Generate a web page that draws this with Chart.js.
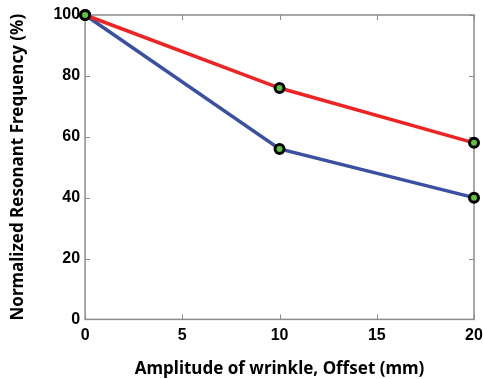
<!DOCTYPE html>
<html><head><meta charset="utf-8">
<script src="https://cdn.jsdelivr.net/npm/chart.js@4"></script>
<style>html,body{margin:0;padding:0;background:#fff;}#wrap{width:483px;height:379px;}</style>
</head><body><div id="wrap"><canvas id="c" width="483" height="379"></canvas></div>
<script>
const offsets = [0, 10, 20];
const redValues = [100, 76, 58];
const blueValues = [100, 56, 40];
const xTicks = [0, 5, 10, 15, 20];
const yTicks = [0, 20, 40, 60, 80, 100];
const xTitle = 'Amplitude of wrinkle, Offset (mm)';
const yTitle = 'Normalized Resonant Frequency (%)';

const frame = {
  id: 'frame',
  beforeDatasetsDraw(chart) {
    const {ctx, chartArea: a, scales} = chart;
    ctx.save();
    ctx.strokeStyle = '#8c8c8c';
    ctx.lineWidth = 1.5;
    ctx.strokeRect(a.left, a.top, a.right - a.left, a.bottom - a.top);
    ctx.lineWidth = 1;
    const L = 5;
    xTicks.forEach(v => {
      const px = Math.round(scales.x.getPixelForValue(v)) + 0.5;
      ctx.beginPath(); ctx.moveTo(px, a.bottom); ctx.lineTo(px, a.bottom - L);
      ctx.moveTo(px, a.top); ctx.lineTo(px, a.top + L); ctx.stroke();
    });
    yTicks.forEach(v => {
      const py = Math.round(scales.y.getPixelForValue(v)) + 0.5;
      ctx.beginPath(); ctx.moveTo(a.left, py); ctx.lineTo(a.left + L, py);
      ctx.moveTo(a.right, py); ctx.lineTo(a.right - L, py); ctx.stroke();
    });
    ctx.restore();
  }
};

const mk = (vals, color) => ({
  data: offsets.map((x, i) => ({x, y: vals[i]})),
  borderColor: color,
  borderWidth: 3.5,
  pointRadius: 4.5,
  pointBorderWidth: 3,
  pointBorderColor: '#000',
  pointBackgroundColor: '#5fc23c',
  tension: 0,
  clip: false
});

new Chart(document.getElementById('c'), {
  type: 'line',
  data: { datasets: [ mk(redValues, '#ee2424'), mk(blueValues, '#3a50a2') ] },
  options: {
    responsive: false,
    animation: false,
    events: [],
    layout: { padding: { left: 8, right: 0, top: 15, bottom: 0 } },
    plugins: { legend: { display: false }, tooltip: { enabled: false } },
    scales: {
      x: {
        type: 'linear', min: 0, max: 20,
        afterBuildTicks: s => { s.ticks = xTicks.map(v => ({value: v})); },
        afterFit: s => { s.paddingRight = 9; },
        grid: { display: false, drawTicks: false },
        border: { display: false },
        ticks: { color: '#000', padding: 7, font: { family: 'Liberation Sans', size: 16, weight: 'bold' } },
        title: { display: true, text: xTitle, color: '#000', padding: { top: 6, bottom: 0 },
                 font: { family: 'Noto Sans', size: 17, weight: 'bold' } }
      },
      y: {
        min: 0, max: 100,
        afterBuildTicks: s => { s.ticks = yTicks.map(v => ({value: v})); },
        grid: { display: false, drawTicks: false },
        border: { display: false },
        ticks: { color: '#000', padding: 5, font: { family: 'Liberation Sans', size: 16, weight: 'bold' } },
        title: { display: true, text: yTitle, color: '#000', padding: { top: 0, bottom: 20 },
                 font: { family: 'Noto Sans', size: 17, weight: 'bold' } }
      }
    }
  },
  plugins: [frame]
});
</script></body></html>
